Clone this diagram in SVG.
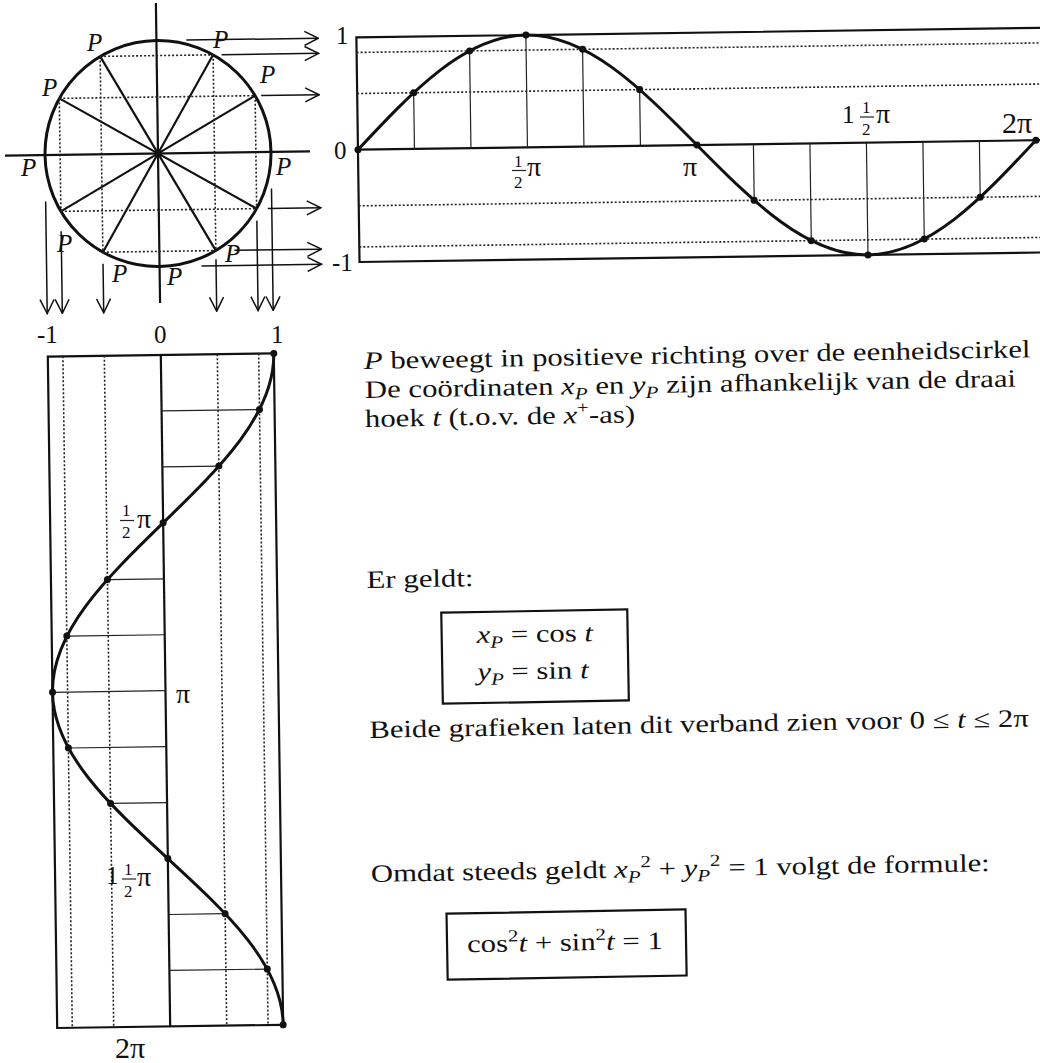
<svg xmlns="http://www.w3.org/2000/svg" width="1040" height="1063" viewBox="0 0 1040 1063">
<defs>
<marker id="ah" viewBox="0 0 16 16" refX="15" refY="8" markerWidth="16" markerHeight="16" markerUnits="userSpaceOnUse" orient="auto">
<path d="M1,1 L15,8 L1,15" fill="none" stroke="#111" stroke-width="1.5"/>
</marker>
</defs>
<style>
.thick{stroke:#111;stroke-width:3;fill:none}
.med{stroke:#111;stroke-width:2.2;fill:none}
.thin{stroke:#222;stroke-width:1.2;fill:none}
.dots{stroke:#222;stroke-width:1.6;stroke-dasharray:2 2;fill:none}
.arr{stroke:#111;stroke-width:1.5;fill:none;marker-end:url(#ah)}
.pt{fill:#111}
text{font-family:"Liberation Serif","Times New Roman",serif;fill:#111}
.lbl{font-size:25px}
.pi{font-size:28px}
.big{font-size:30px}
.fr{font-size:17px}
.it{font-style:italic}
.body{font-size:25px}
.sub{font-size:17px;font-style:italic}
.sup{font-size:17px}
</style>
<rect width="1040" height="1063" fill="#fff"/>
<g id="drawing" transform="rotate(-0.8 158 154)">
<g id="unit-circle">
<circle cx="158" cy="153.5" r="113" class="thick"/>
<line x1="5" y1="153.5" x2="310" y2="153.5" class="med"/>
<line x1="158" y1="3" x2="158" y2="303" class="med"/>
<line x1="255.9" y1="97" x2="60.1" y2="210" class="med"/>
<line x1="214.5" y1="55.6" x2="101.5" y2="251.4" class="med"/>
<line x1="101.5" y1="55.6" x2="214.5" y2="251.4" class="med"/>
<line x1="60.1" y1="97" x2="255.9" y2="210" class="med"/>
<line x1="101.5" y1="55.6" x2="214.5" y2="55.6" class="dots"/>
<line x1="60.1" y1="97" x2="255.9" y2="97" class="dots"/>
<line x1="60.1" y1="210" x2="255.9" y2="210" class="dots"/>
<line x1="101.5" y1="251.4" x2="214.5" y2="251.4" class="dots"/>
<line x1="60.1" y1="97" x2="60.1" y2="210" class="dots"/>
<line x1="101.5" y1="55.6" x2="101.5" y2="251.4" class="dots"/>
<line x1="214.5" y1="55.6" x2="214.5" y2="251.4" class="dots"/>
<line x1="255.9" y1="97" x2="255.9" y2="210" class="dots"/>
<circle cx="158" cy="153.5" r="3.5" class="pt"/>
</g>
<g id="sine-graph">
<path d="M1050,40.2 H358 V264.8 H1050" class="med"/>
<line x1="358" y1="152.5" x2="1050" y2="152.5" class="med"/>
<g class="dots">
<line x1="358" y1="55.25" x2="1050" y2="55.25"/>
<line x1="358" y1="96.35" x2="1050" y2="96.35"/>
<line x1="358" y1="208.65" x2="1050" y2="208.65"/>
<line x1="358" y1="249.75" x2="1050" y2="249.75"/>
</g>
<g class="thin">
<line x1="414.5" y1="96.35" x2="414.5" y2="152.5"/>
<line x1="471" y1="55.25" x2="471" y2="152.5"/>
<line x1="527.5" y1="40.2" x2="527.5" y2="152.5"/>
<line x1="584" y1="55.25" x2="584" y2="152.5"/>
<line x1="640.5" y1="96.35" x2="640.5" y2="152.5"/>
<line x1="753.5" y1="208.65" x2="753.5" y2="152.5"/>
<line x1="810" y1="249.75" x2="810" y2="152.5"/>
<line x1="866.5" y1="264.8" x2="866.5" y2="152.5"/>
<line x1="923" y1="249.75" x2="923" y2="152.5"/>
<line x1="979.5" y1="208.65" x2="979.5" y2="152.5"/>
</g>
<path d="M358,152.5 C413.28,94.97 466.15,40.2 527.5,40.2 C588.85,40.2 641.72,94.97 697,152.5 C752.28,210.03 805.15,264.8 866.5,264.8 C927.85,264.8 980.72,210.03 1036,152.5" class="thick"/>
<g class="pt">
<circle cx="358" cy="152.5" r="3.5"/><circle cx="414.5" cy="96.35" r="3.5"/><circle cx="471" cy="55.25" r="3.5"/><circle cx="527.5" cy="40.2" r="3.5"/><circle cx="584" cy="55.25" r="3.5"/><circle cx="640.5" cy="96.35" r="3.5"/><circle cx="697" cy="152.5" r="3.5"/><circle cx="753.5" cy="208.65" r="3.5"/><circle cx="810" cy="249.75" r="3.5"/><circle cx="866.5" cy="264.8" r="3.5"/><circle cx="923" cy="249.75" r="3.5"/><circle cx="979.5" cy="208.65" r="3.5"/><circle cx="1036" cy="152.5" r="3.5"/>
</g>
</g>
<g id="cosine-graph">
<rect x="45" y="355" width="226" height="671.5" class="med"/>
<line x1="158" y1="355" x2="158" y2="1026.5" class="med"/>
<g class="dots">
<line x1="60.1" y1="355" x2="60.1" y2="1026.5"/>
<line x1="101.5" y1="355" x2="101.5" y2="1026.5"/>
<line x1="214.5" y1="355" x2="214.5" y2="1026.5"/>
<line x1="255.9" y1="355" x2="255.9" y2="1026.5"/>
</g>
<g class="thin">
<line x1="158" y1="410.96" x2="255.9" y2="410.96"/>
<line x1="158" y1="466.92" x2="214.5" y2="466.92"/>
<line x1="158" y1="578.83" x2="101.5" y2="578.83"/>
<line x1="158" y1="634.79" x2="60.1" y2="634.79"/>
<line x1="158" y1="690.75" x2="45" y2="690.75"/>
<line x1="158" y1="746.7" x2="60.1" y2="746.7"/>
<line x1="158" y1="802.67" x2="101.5" y2="802.67"/>
<line x1="158" y1="914.58" x2="214.5" y2="914.58"/>
<line x1="158" y1="970.54" x2="255.9" y2="970.54"/>
</g>
<path d="M271,355 C271,415.76 215.89,468.12 158,522.875 C100.11,577.62 45,629.99 45,690.75 C45,751.51 100.11,803.87 158,858.625 C215.89,913.38 271,965.74 271,1026.5" class="thick"/>
<g class="pt">
<circle cx="271" cy="355" r="3.5"/><circle cx="255.9" cy="410.96" r="3.5"/><circle cx="214.5" cy="466.92" r="3.5"/><circle cx="158" cy="522.875" r="3.5"/><circle cx="101.5" cy="578.83" r="3.5"/><circle cx="60.1" cy="634.79" r="3.5"/><circle cx="45" cy="690.75" r="3.5"/><circle cx="60.1" cy="746.7" r="3.5"/><circle cx="101.5" cy="802.67" r="3.5"/><circle cx="158" cy="858.625" r="3.5"/><circle cx="214.5" cy="914.58" r="3.5"/><circle cx="255.9" cy="970.54" r="3.5"/><circle cx="271" cy="1026.5" r="3.5"/>
</g>
</g>
<g id="connectors">
<line x1="188" y1="40.5" x2="320" y2="40.5" class="arr"/>
<line x1="223" y1="55.6" x2="320" y2="55.6" class="arr"/>
<line x1="262" y1="97" x2="320" y2="97" class="arr"/>
<line x1="267" y1="210" x2="320" y2="210" class="arr"/>
<line x1="233" y1="251.4" x2="320" y2="251.4" class="arr"/>
<line x1="200" y1="266.5" x2="320" y2="266.5" class="arr"/>
<line x1="45" y1="200" x2="45" y2="312" class="arr"/>
<line x1="60.1" y1="230" x2="60.1" y2="312" class="arr"/>
<line x1="101.5" y1="263" x2="101.5" y2="312" class="arr"/>
<line x1="214.5" y1="260" x2="214.5" y2="312" class="arr"/>
<line x1="255.9" y1="222" x2="255.9" y2="312" class="arr"/>
<line x1="271" y1="190" x2="271" y2="312" class="arr"/>
</g>
</g>
<g id="circle-labels" class="lbl it">
<text x="87" y="51">P</text>
<text x="213" y="48">P</text>
<text x="260" y="83">P</text>
<text x="42" y="96">P</text>
<text x="21" y="176">P</text>
<text x="276" y="175">P</text>
<text x="57" y="252">P</text>
<text x="112" y="282">P</text>
<text x="167" y="285">P</text>
<text x="225" y="262">P</text>
</g>
<g id="sine-labels">
<text class="lbl" x="336" y="44">1</text>
<text class="lbl" x="334" y="159">0</text>
<text class="lbl" x="332" y="271">-1</text>
<text class="fr" x="514" y="167">1</text>
<line x1="512" y1="170.5" x2="526" y2="170.5" class="thin"/>
<text class="fr" x="514" y="188">2</text>
<text class="pi" x="527" y="176">π</text>
<text class="pi" x="683" y="176">π</text>
<text class="lbl" x="842" y="123">1</text>
<text class="fr" x="862" y="113">1</text>
<line x1="860" y1="117" x2="874" y2="117" class="thin"/>
<text class="fr" x="862" y="135">2</text>
<text class="pi" x="876" y="123">π</text>
<text class="big" x="1002" y="133">2π</text>
</g>
<g id="cosine-labels">
<text class="lbl" x="37" y="343">-1</text>
<text class="lbl" x="154" y="343">0</text>
<text class="lbl" x="271" y="343">1</text>
<text class="fr" x="122" y="516">1</text>
<line x1="120" y1="520.5" x2="134" y2="520.5" class="thin"/>
<text class="fr" x="122" y="538">2</text>
<text class="pi" x="137" y="528">π</text>
<text class="pi" x="176" y="703">π</text>
<text class="lbl" x="106" y="884">1</text>
<text class="fr" x="124" y="875">1</text>
<line x1="122" y1="879" x2="136" y2="879" class="thin"/>
<text class="fr" x="124" y="897">2</text>
<text class="pi" x="137" y="886">π</text>
<text class="big" x="115" y="1058">2π</text>
</g>
<g id="explanation" transform="rotate(-1 364 369)">
<text class="body" transform="translate(364 369) scale(1.23 1)"><tspan class="it">P</tspan> beweegt in positieve richting over de eenheidscirkel</text>
<text class="body" transform="translate(364.5 398) scale(1.23 1)">De coördinaten <tspan class="it">x</tspan><tspan class="sub" dy="5">P</tspan><tspan dy="-5"> en </tspan><tspan class="it">y</tspan><tspan class="sub" dy="5">P</tspan><tspan dy="-5"> zijn afhankelijk van de draai</tspan></text>
<text class="body" transform="translate(364 427) scale(1.23 1)">hoek <tspan class="it">t</tspan> (t.o.v. de <tspan class="it">x</tspan><tspan class="sup" dy="-10">+</tspan><tspan dy="10">-as)</tspan></text>
<text class="body" transform="translate(363 588) scale(1.23 1)">Er geldt:</text>
<rect x="437" y="614" width="186" height="91" class="med"/>
<text class="body" transform="translate(472 645) scale(1.23 1)"><tspan class="it">x</tspan><tspan class="sub" dy="5">P</tspan><tspan dy="-5"> = cos </tspan><tspan class="it">t</tspan></text>
<text class="body" transform="translate(472 682) scale(1.23 1)"><tspan class="it">y</tspan><tspan class="sub" dy="5">P</tspan><tspan dy="-5"> = sin </tspan><tspan class="it">t</tspan></text>
<text class="body" transform="translate(363 738) scale(1.23 1)">Beide grafieken laten dit verband zien voor 0 ≤ <tspan class="it">t</tspan> ≤ 2π</text>
<text class="body" transform="translate(362 882) scale(1.23 1)">Omdat steeds geldt <tspan class="it">x</tspan><tspan class="sub" dy="5">P</tspan><tspan class="sup" dy="-15">2</tspan><tspan dy="10"> + </tspan><tspan class="it">y</tspan><tspan class="sub" dy="5">P</tspan><tspan class="sup" dy="-15">2</tspan><tspan dy="10"> = 1 volgt de formule:</tspan></text>
<rect x="437" y="915" width="239" height="66" class="med"/>
<text class="body" transform="translate(457 954) scale(1.23 1)">cos<tspan class="sup" dy="-10">2</tspan><tspan class="it" dy="10">t</tspan> + sin<tspan class="sup" dy="-10">2</tspan><tspan class="it" dy="10">t</tspan> = 1</text>
</g>
</svg>
